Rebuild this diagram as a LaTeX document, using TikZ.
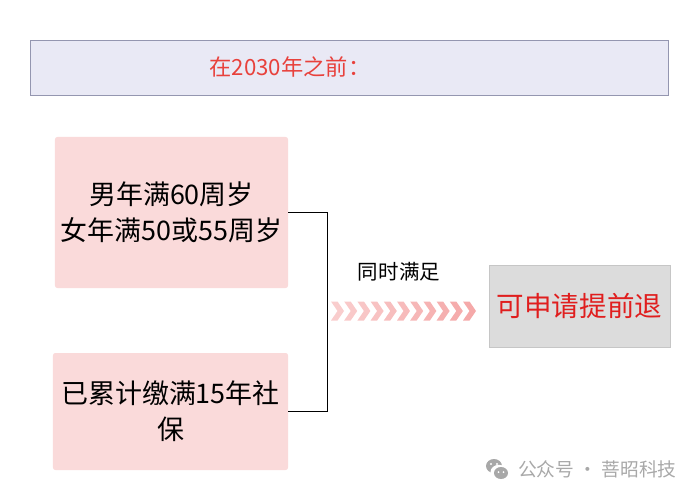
\documentclass[tikz,border=0pt]{standalone}
\usepackage{fontspec}
\setmainfont{Noto Sans CJK SC}
\usepackage{tikz}
\usetikzlibrary{positioning, arrows.meta, calc}
\definecolor{bannerfill}{HTML}{E9E9F5}
\definecolor{bannerline}{HTML}{9496B0}
\definecolor{pinkfill}{HTML}{FADADA}
\definecolor{grayfill}{HTML}{DCDCDC}
\definecolor{redtext}{HTML}{E8413C}
\definecolor{deepred}{HTML}{E01E1E}
\definecolor{chevron}{HTML}{F4A4A4}
\definecolor{markgray}{HTML}{A8A8A8}
\tikzset{cond node/.style={fill=pinkfill, rounded corners=2pt, align=center, font=\fontsize{23}{31}\selectfont, inner sep=0pt},}
\tikzset{chev/.pic={\fill (0,-9.5) -- (6.5,-9.5) -- (13,0) -- (6.5,9.5) -- (0,9.5) -- (6.5,0) -- cycle;}}

\begin{document}
\begin{tikzpicture}[x=0.03cm, y=-0.03cm]
		\useasboundingbox (0,0) rectangle (700,501);
		% Grids
		\node[draw=bannerline, fill=bannerfill, minimum width=19.14cm, minimum height=1.65cm, inner sep=0pt] (banner) at (349,67.5) {};
		\node[text=redtext, font=\fontsize{19}{22}\selectfont] (title) at (290,67) {在2030年之前：};
		\node[cond node, minimum width=6.99cm, minimum height=4.53cm] (cond1) at (171.5,212.5) {男年满60周岁\\女年满50或55周岁};
		\node[cond node, minimum width=7.05cm, minimum height=3.51cm] (cond2) at (170.5,411.5) {已累计缴满15年社\\保};
		\node[draw=grayfill!90!black, fill=grayfill, minimum width=5.43cm, minimum height=2.46cm, text=deepred, font=\fontsize{23.5}{26}\selectfont] (result) at (579.5,306) {可申请提前退};
		\node[font=\fontsize{17.5}{20}\selectfont] (both) at (399,272) {同时满足};
		% Paths
		\draw[thick] (cond1.east) -- ++(39,0) |- (cond2.east);
		\foreach \i in {0,...,10}
			\pic[fill=chevron!\the\numexpr 55+4*\i\relax!white] at (331+13.2*\i,311) {chev};
		% Mark
		\node[text=markgray, font=\fontsize{16}{18}\selectfont, anchor=west] (mark) at (514,469) {公众号 · 菩昭科技};
		\fill[markgray] (494,466) ellipse (8 and 7);
		\fill[white] (499,472) ellipse (8.5 and 7.2);
		\fill[markgray] (501,473) ellipse (7 and 6);
		\fill[white] (491,464) circle (1.2) (497,464) circle (1.2) (498.5,472) circle (1) (503.5,472) circle (1);
	\end{tikzpicture}
\end{document}
